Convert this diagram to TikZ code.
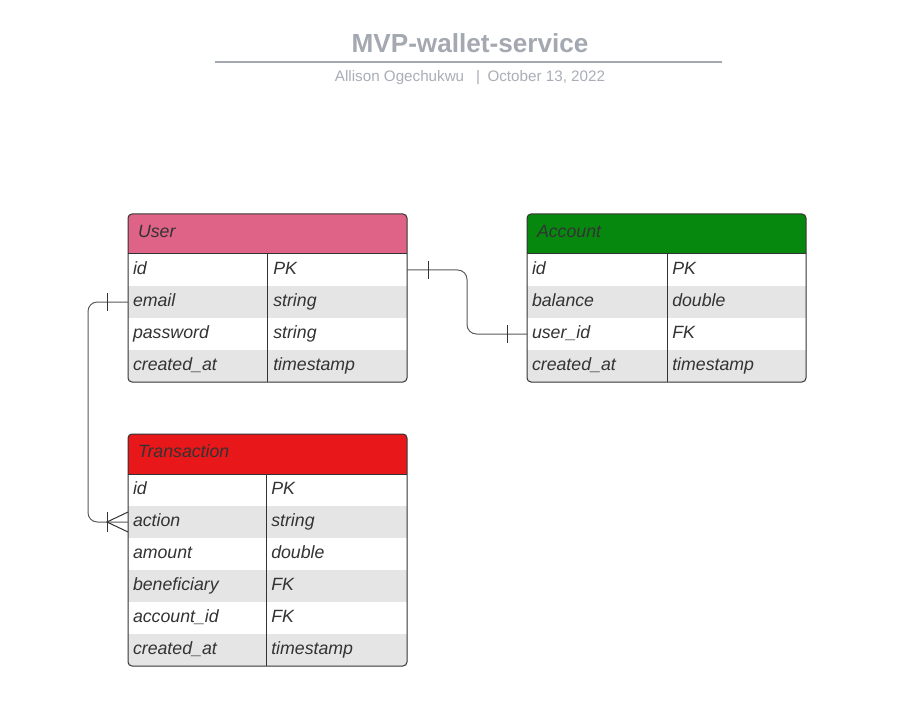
\documentclass[tikz,border=0pt]{standalone}
\usepackage{fontspec}
\setmainfont{Liberation Sans}
\usetikzlibrary{calc, positioning}

\definecolor{titlegray}{HTML}{A3A8B1}
\definecolor{subgray}{HTML}{A9AEB6}
\definecolor{userpink}{HTML}{DE6387}
\definecolor{accgreen}{HTML}{06880F}
\definecolor{txred}{HTML}{E81719}
\definecolor{rowgray}{HTML}{E5E5E5}
\definecolor{ink}{HTML}{333333}
\definecolor{linkgray}{HTML}{5A5A5A}

\begin{document}
\begin{tikzpicture}[x=0.75pt, y=-0.75pt,
  every node/.style={font=\fontsize{13.3}{16}\selectfont\itshape, text=ink},
  head/.style={anchor=north west, minimum height=30pt, text width=194.25pt,
    text height=10pt, text depth=5pt,
    inner xsep=7.5pt, inner ysep=0pt, outer sep=0pt, align=left},
  row/.style={anchor=north west, minimum height=24pt, text width=201.75pt,
    text height=10pt, text depth=4pt,
    inner xsep=3.75pt, inner ysep=0pt, outer sep=0pt, align=left},
  kind/.style={anchor=west, inner sep=0pt, text height=10pt, text depth=4pt},
  frame/.style={draw=ink, line width=0.75pt, rounded corners=3pt},
  rule/.style={draw=ink, line width=0.75pt},
  link/.style={draw=linkgray, line width=0.75pt, rounded corners=7pt},
  tick/.style={draw=ink, line width=0.75pt}]

\fill[white] (0,0) rectangle (924,720);
\useasboundingbox (0,0) rectangle (924,720);

% Title block
\node[font=\fontsize{19.6}{24}\selectfont\bfseries, text=titlegray] (title) at (470,43) {MVP-wallet-service};
\draw[titlegray, line width=1.5pt] (215,62) -- (722,62);
\node[font=\fontsize{11.4}{14}\selectfont, text=subgray] (byline) at (470,78)
  {Allison Ogechukwu \enspace|\enspace October 13, 2022};

% User table
\begin{scope}
  \clip[rounded corners=3pt] (128,214) rectangle (407,382);
  \node[head, fill=userpink] (user) at (128,214) {User};
  \foreach \key/\name/\bg [count=\i from 0] in
    {id/id/white, email/email/rowgray, pw/password/white, created/created\_at/rowgray}
    \node[row, fill=\bg] (user-\key) at (128,254+32*\i) {\name};
\end{scope}
\foreach \key/\kindtext in {id/PK, email/string, pw/string, created/timestamp}
  \node[kind] (user-\key-t) at ($(user-\key.west)+(145,0)$) {\kindtext};
\draw[rule] ($(user-id.north west)+(139,0)$) -- ($(user-created.south west)+(139,0)$);
\draw[rule] (user.south west) -- (user.south east);
\draw[frame] (user.north west) rectangle (user-created.south east);

% Account table
\begin{scope}
  \clip[rounded corners=3pt] (527,214) rectangle (806,382);
  \node[head, fill=accgreen] (acc) at (527,214) {Account};
  \foreach \key/\name/\bg [count=\i from 0] in
    {id/id/white, bal/balance/rowgray, uid/user\_id/white, created/created\_at/rowgray}
    \node[row, fill=\bg] (acc-\key) at (527,254+32*\i) {\name};
\end{scope}
\foreach \key/\kindtext in {id/PK, bal/double, uid/FK, created/timestamp}
  \node[kind] (acc-\key-t) at ($(acc-\key.west)+(145,0)$) {\kindtext};
\draw[rule] ($(acc-id.north west)+(140,0)$) -- ($(acc-created.south west)+(140,0)$);
\draw[rule] (acc.south west) -- (acc.south east);
\draw[frame] (acc.north west) rectangle (acc-created.south east);

% Transaction table
\begin{scope}
  \clip[rounded corners=3pt] (128,434) rectangle (407,666);
  \node[head, fill=txred] (tx) at (128,434) {Transaction};
  \foreach \key/\name/\bg [count=\i from 0] in
    {id/id/white, action/action/rowgray, amount/amount/white,
     benef/beneficiary/rowgray, accid/account\_id/white, created/created\_at/rowgray}
    \node[row, fill=\bg] (tx-\key) at (128,474+32*\i) {\name};
\end{scope}
\foreach \key/\kindtext in {id/PK, action/string, amount/double, benef/FK, accid/FK, created/timestamp}
  \node[kind] (tx-\key-t) at ($(tx-\key.west)+(143,0)$) {\kindtext};
\draw[rule] ($(tx-id.north west)+(138,0)$) -- ($(tx-created.south west)+(138,0)$);
\draw[rule] (tx.south west) -- (tx.south east);
\draw[frame] (tx.north west) rectangle (tx-created.south east);

% User 1 -- 1 Account
\draw[link] (user-id.east) -- ++(60,0) |- (acc-uid.west);
\draw[tick] ($(user-id.east)+(21,-9)$) -- ++(0,18);
\draw[tick] ($(acc-uid.west)+(-20,-9)$) -- ++(0,18);

% User 1 -- n Transaction
\draw[link] (user-email.west) -- ++(-40,0) |- (tx-action.west);
\draw[tick] ($(user-email.west)+(-21,-9)$) -- ++(0,18);
\draw[tick] ($(tx-action.west)+(-21,-10)$) -- ++(0,20);
\draw[tick] ($(tx-action.west)+(0,-10)$) -- ($(tx-action.west)+(-21,0)$) -- ($(tx-action.west)+(0,10)$);

\end{tikzpicture}
\end{document}
